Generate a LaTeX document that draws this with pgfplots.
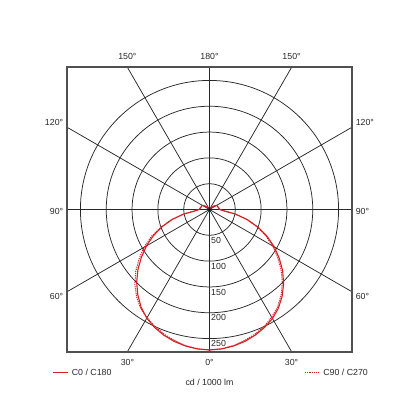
\documentclass[border=0pt]{standalone}
\usepackage{fontspec}
\setmainfont{Liberation Sans}
\usepackage{pgfplots}
\pgfplotsset{compat=1.18}
\usepackage{pgfplotstable}
\definecolor{curvered}{RGB}{212,32,36}
\definecolor{gridc}{RGB}{40,40,40}
\definecolor{framec}{RGB}{80,80,80}
\definecolor{txt}{RGB}{40,40,40}

% angle phi (standard, degrees), radius (cd / 1000 lm)
\pgfplotstableread{
phi r
-270 1
-260 1
-250 1
-240 2
-230 4
-220 9
-215 13
-210 16
-205 16.5
-200 17
-195 17
-190 18
-185 19
-180 20
-175 27
-170 51
-165 75
-160 98
-155 120
-150 141
-145 161
-140 181
-135 199.5
-130 216
-125 231
-120 243
-115 252
-110 259
-105 264.5
-100 268.5
-95 271
-90 272
-85 271
-80 268.5
-75 264.5
-70 259
-65 252
-60 244
-55 233
-50 219
-45 203
-40 185
-35 165
-30 145
-25 123
-20 100
-15 76
-10 51
-5 27
0 20
5 19
10 18
15 17
20 17
25 16.5
30 16
35 13
40 9
50 4
60 2
70 1
80 1
90 1
}\solidtab

\pgfplotstableread{
phi r
-270 1
-260 1
-250 1
-240 2
-230 4
-220 9
-215 13
-210 16
-205 16.5
-200 17
-195 17
-190 18
-185 19
-180 20
-175 27
-170 51
-165 76
-160 100
-155 124.5
-150 146.5
-145 166.5
-140 186.5
-135 204.5
-130 220
-125 233
-120 242
-115 250
-110 257
-105 262.5
-100 267.5
-95 271
-90 272
-85 271
-80 267.5
-75 262.5
-70 257
-65 250
-60 241
-55 230
-50 216
-45 199.5
-40 181
-35 161
-30 141
-25 120
-20 98
-15 75
-10 51
-5 27
0 20
5 19
10 18
15 17
20 17
25 16.5
30 16
35 13
40 9
50 4
60 2
70 1
80 1
90 1
}\dottedtab

\begin{document}
\begin{tikzpicture}
\useasboundingbox (-209.5bp,-209.5bp) rectangle (209.5bp,209.5bp);
\begin{axis}[
  at={(0,0)}, anchor=center,
  width=285bp, height=285bp, scale only axis,
  xmin=-276, xmax=276, ymin=-276, ymax=276,
  axis line style={draw=none},
  ticks=none,
  clip=false,
  font=\fontsize{8.8bp}{10bp}\selectfont,
]
\begin{scope}
\clip (axis cs:-276,-276) rectangle (axis cs:276,276);
\draw[gridc, line width=0.75pt] (axis cs:0,0) circle[radius=50];
\draw[gridc, line width=0.75pt] (axis cs:0,0) circle[radius=100];
\draw[gridc, line width=0.75pt] (axis cs:0,0) circle[radius=150];
\draw[gridc, line width=0.75pt] (axis cs:0,0) circle[radius=200];
\draw[gridc, line width=0.75pt] (axis cs:0,0) circle[radius=250];
\draw[gridc, line width=0.75pt] (axis cs:0,-300) -- (axis cs:0,300);
\draw[gridc, line width=0.75pt] (axis cs:-300,0) -- (axis cs:300,0);
\draw[gridc, line width=0.75pt] (axis cs:-173.2,-300) -- (axis cs:173.2,300);
\draw[gridc, line width=0.75pt] (axis cs:173.2,-300) -- (axis cs:-173.2,300);
\draw[gridc, line width=0.75pt] (axis cs:-519.6,-300) -- (axis cs:519.6,300);
\draw[gridc, line width=0.75pt] (axis cs:519.6,-300) -- (axis cs:-519.6,300);
\end{scope}
\draw[framec, line width=1.5pt] (axis cs:-276,-276) rectangle (axis cs:276,276);

\addplot[curvered, line width=1.0pt, dash pattern=on 1.2pt off 1pt, no markers]
  table[x=phi, y=r, data cs=polar] {\dottedtab};
\addplot[curvered, line width=1.1pt, no markers]
  table[x=phi, y=r, data cs=polar] {\solidtab};

\fill[black] (axis cs:0,0) circle[radius=3];

% radial labels
\node[txt, anchor=west, inner sep=0pt] at (axis cs:3,-60) {50};
\node[txt, anchor=west, inner sep=0pt] at (axis cs:3,-110) {100};
\node[txt, anchor=west, inner sep=0pt] at (axis cs:3,-160) {150};
\node[txt, anchor=west, inner sep=0pt] at (axis cs:3,-210) {200};
\node[txt, anchor=west, inner sep=0pt] at (axis cs:3,-260) {250};

% angle labels
\node[txt] at (axis cs:0,296) {180°};
\node[txt] at (axis cs:-159,296) {150°};
\node[txt] at (axis cs:159,296) {150°};
\node[txt, anchor=east, inner sep=0pt] at (axis cs:-283,168) {120°};
\node[txt, anchor=east, inner sep=0pt] at (axis cs:-283,-4) {90°};
\node[txt, anchor=east, inner sep=0pt] at (axis cs:-283,-169) {60°};
\node[txt, anchor=west, inner sep=0pt] at (axis cs:283,168) {120°};
\node[txt, anchor=west, inner sep=0pt] at (axis cs:283,-4) {90°};
\node[txt, anchor=west, inner sep=0pt] at (axis cs:283,-169) {60°};
\node[txt] at (axis cs:-159,-296) {30°};
\node[txt] at (axis cs:0,-296) {0°};
\node[txt] at (axis cs:159,-296) {30°};

% legend
\draw[curvered, line width=1.1pt] (axis cs:-304,-315) -- (axis cs:-275,-315);
\node[txt, anchor=west, inner sep=0pt] at (axis cs:-267,-315) {C0 / C180};
\draw[curvered, line width=1.0pt, dash pattern=on 1.2pt off 1pt] (axis cs:185,-315) -- (axis cs:214,-315);
\node[txt, anchor=west, inner sep=0pt] at (axis cs:220,-315) {C90 / C270};
\node[txt] at (axis cs:0,-334) {cd / 1000 lm};
\end{axis}
\end{tikzpicture}
\end{document}
